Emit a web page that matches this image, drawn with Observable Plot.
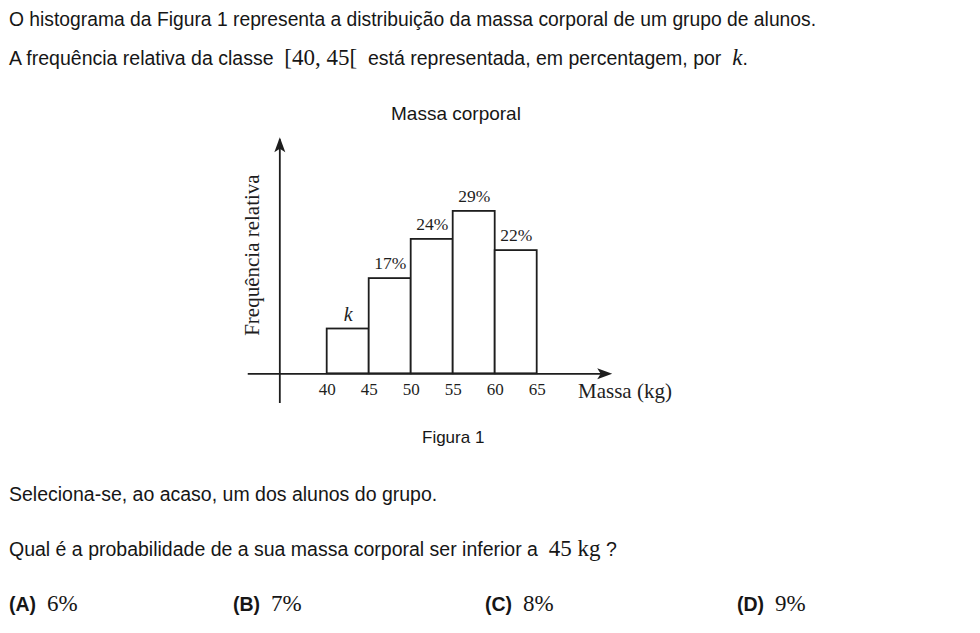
<!DOCTYPE html>
<html>
<head>
<meta charset="utf-8">
<script src="https://cdn.jsdelivr.net/npm/d3@7"></script>
<script src="https://cdn.jsdelivr.net/npm/@observablehq/plot@0.6"></script>
<style>
  html, body { margin: 0; padding: 0; background: #fff; }
  #wrap { position: relative; width: 980px; height: 633px; overflow: hidden; color: #161616;
          font-family: "Liberation Sans", Arial, sans-serif; font-size: 19.5px; }
  .t { position: absolute; white-space: nowrap; line-height: 19px; }
  .serif { font-family: "Liberation Serif", "Times New Roman", serif; font-size: 23px; line-height: 19px; }
  .it { font-style: italic; }
  .b { font-weight: bold; }
  #chart { position: absolute; left: 0; top: 90px; }
</style>
</head>
<body>
<div id="wrap">
  <div class="t" style="left:9px; top:10px; font-size:19.3px;">O histograma da Figura 1 representa a distribuição da massa corporal de um grupo de alunos.</div>
  <div class="t" style="left:9px; top:48px;">A frequência relativa da classe&nbsp; <span class="serif">[40, 45[</span> &nbsp;está representada, em percentagem, por&nbsp; <span class="serif it">k</span>.</div>
  <div class="t" style="left:391px; top:104px; font-size:19px;">Massa corporal</div>
  <div id="chart"></div>
  <div class="t" style="left:422px; top:428px; font-size:17px;">Figura 1</div>
  <div class="t" style="left:9px; top:485px;">Seleciona-se, ao acaso, um dos alunos do grupo.</div>
  <div class="t" style="left:9px; top:539px;">Qual é a probabilidade de a sua massa corporal ser inferior a&nbsp; <span class="serif">45 kg</span> ?</div>
  <div class="t" style="left:9px; top:594px;"><span class="b">(A)</span>&nbsp; <span class="serif">6%</span></div>
  <div class="t" style="left:233px; top:594px;"><span class="b">(B)</span>&nbsp; <span class="serif">7%</span></div>
  <div class="t" style="left:485px; top:594px;"><span class="b">(C)</span>&nbsp; <span class="serif">8%</span></div>
  <div class="t" style="left:737px; top:594px;"><span class="b">(D)</span>&nbsp; <span class="serif">9%</span></div>
</div>
<script>
// ---- data ----
const classLower = [40, 45, 50, 55, 60];
const classUpper = [45, 50, 55, 60, 65];
const relFreq = [8, 17, 24, 29, 22];          // percent (k = 8)
const barLabels = ["k", "17%", "24%", "29%", "22%"];
const xTicks = [40, 45, 50, 55, 60, 65];
const xAxisLabel = "Massa (kg)";
const yAxisLabel = "Frequência relativa";

// axis geometry (data units)
const xAxisExtent = [30.6, 73.6];
const yAxisAt = 34.36;
const yAxisExtent = [-5.3, 41.8];
const arrowTips = [
  {x: 73.93, y: 0, rot: 90},
  {x: 34.36, y: 42.25, rot: 0}
];
const xLabelPos = {x: 75.45, y: 0};
const yLabelPos = {x: 31.07, y: 21.2};

const bars = classLower.map((lo, i) => ({lo, hi: classUpper[i], f: relFreq[i], label: barLabels[i]}));

const arrowHead = {
  draw(ctx) {
    ctx.moveTo(0, 0);
    ctx.lineTo(5.5, 15);
    ctx.lineTo(0, 11.5);
    ctx.lineTo(-5.5, 15);
    ctx.closePath();
  }
};

const ink = "#1e1e1e";
const serif = "'Liberation Serif', 'Times New Roman', serif";

const chart = Plot.plot({
  width: 980,
  height: 335,
  marginLeft: 242.7,
  marginRight: 359.3,
  marginTop: 36.9,
  marginBottom: 18.1,
  x: {domain: [30, 75], axis: null},
  y: {domain: [-6, 44], axis: null},
  style: {background: "transparent", overflow: "visible", color: ink},
  marks: [
    Plot.rect(bars, {x1: "lo", x2: "hi", y1: 0, y2: "f", fill: "white", stroke: ink, strokeWidth: 1.8}),
    Plot.ruleY([0], {x1: xAxisExtent[0], x2: xAxisExtent[1], stroke: ink, strokeWidth: 1.8}),
    Plot.ruleX([yAxisAt], {y1: yAxisExtent[0], y2: yAxisExtent[1], stroke: ink, strokeWidth: 1.8}),
    Plot.dot(arrowTips, {x: "x", y: "y", rotate: "rot", symbol: arrowHead, fill: ink, stroke: "none"}),
    Plot.text(bars.filter(d => d.label !== "k"), {x: d => (d.lo + d.hi) / 2, y: "f", text: "label", dy: -15, fontSize: 17.5, fontFamily: serif, fill: ink}),
    Plot.text(bars.filter(d => d.label === "k"), {x: d => (d.lo + d.hi) / 2, y: "f", text: "label", dy: -14, fontSize: 20, fontStyle: "italic", fontFamily: serif, fill: ink}),
    Plot.text(xTicks, {x: d => d, y: 0, text: d => String(d), dy: 16, fontSize: 17, fontFamily: serif, fill: ink}),
    Plot.text([xAxisLabel], {x: xLabelPos.x, y: xLabelPos.y, text: d => d, dy: 17, fontSize: 21, fontFamily: serif, fill: ink}),
    Plot.text([yAxisLabel], {x: yLabelPos.x, y: yLabelPos.y, text: d => d, rotate: -90, fontSize: 21, fontFamily: serif, fill: ink})
  ]
});
document.getElementById("chart").appendChild(chart);
</script>
</body>
</html>
